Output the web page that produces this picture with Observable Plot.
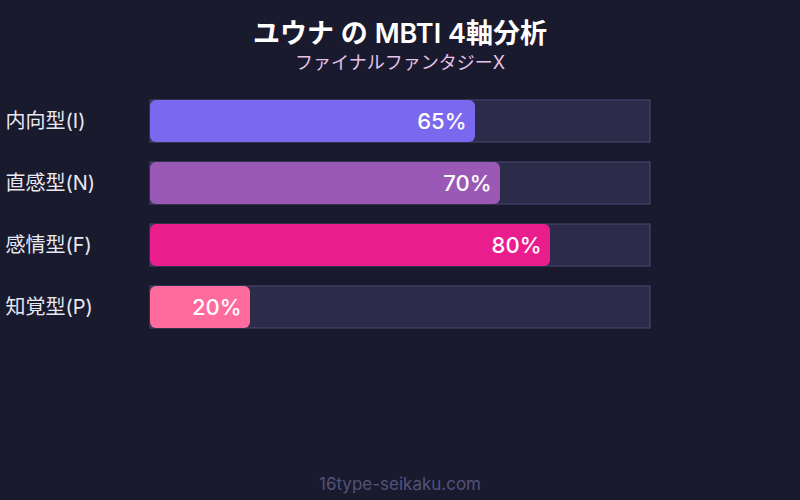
<!DOCTYPE html>
<html><head><meta charset="utf-8">
<script src="https://cdn.jsdelivr.net/npm/d3@7"></script>
<script src="https://cdn.jsdelivr.net/npm/@observablehq/plot@0.6"></script>
<style>
html,body{margin:0;padding:0;background:#1a1a2e;}
#wrap{position:relative;width:800px;height:500px;background:#1a1a2e;font-family:Inter,"Noto Sans CJK JP",sans-serif;overflow:hidden;}
#title{position:absolute;top:15px;left:0;width:800px;text-align:center;color:#ffffff;font-size:27px;font-weight:600;line-height:38px;}
#subtitle{position:absolute;top:51px;left:0;width:800px;text-align:center;color:#e6c3ea;font-size:18px;line-height:24px;}
#chart{position:absolute;top:80px;left:0;}
#footer{position:absolute;top:473px;left:0;width:800px;text-align:center;color:#52527a;font-size:17px;line-height:22px;}
</style></head>
<body>
<div id="wrap">
<div id="title">ユウナ の MBTI 4軸分析</div>
<div id="subtitle">ファイナルファンタジーX</div>
<div id="chart"></div>
<div id="footer">16type-seikaku.com</div>
</div>
<script>
const leftLabels = ["内向型(I)", "直感型(N)", "感情型(F)", "知覚型(P)"];
const rightLabels = ["外向型(E)", "感覚型(S)", "思考型(T)", "判断型(J)"];
const values = [65, 70, 80, 20];
const colors = ["#7b68ee", "#9b59b6", "#e91e8c", "#ff6b9d"];

const data = leftLabels.map((l, i) => ({left: l, right: rightLabels[i], value: values[i], color: colors[i]}));

const chart = Plot.plot({
  width: 800,
  height: 258,
  marginTop: 10,
  marginBottom: 0,
  marginLeft: 150,
  marginRight: 150,
  style: {background: "transparent", fontFamily: 'Inter, "Noto Sans CJK JP", sans-serif'},
  x: {domain: [0, 100], axis: null},
  y: {domain: leftLabels, axis: null, paddingInner: 20/62, paddingOuter: 10/62},
  marks: [
    Plot.barX(data, {y: "left", x1: 0, x2: 100, fill: "#2d2b4a", stroke: "#4a4870", strokeWidth: 1}),
    Plot.barX(data, {y: "left", x1: 0, x2: "value", fill: d => d.color, rx: 6}),
    Plot.text(data, {y: "left", x: "value", text: d => d.value + "%", textAnchor: "end", dx: -9, fill: "#ffffff", fontSize: 22, fontWeight: 500}),
    Plot.text(data, {y: "left", text: "left", frameAnchor: "left", textAnchor: "start", dx: -145, fill: "#e8e8f0", fontSize: 20}),
    Plot.text(data, {y: "right", text: "right", frameAnchor: "right", textAnchor: "start", dx: 8, fill: "#9a9aaa", fontSize: 20})
  ]
});
document.getElementById("chart").appendChild(chart);
</script>
</body></html>
